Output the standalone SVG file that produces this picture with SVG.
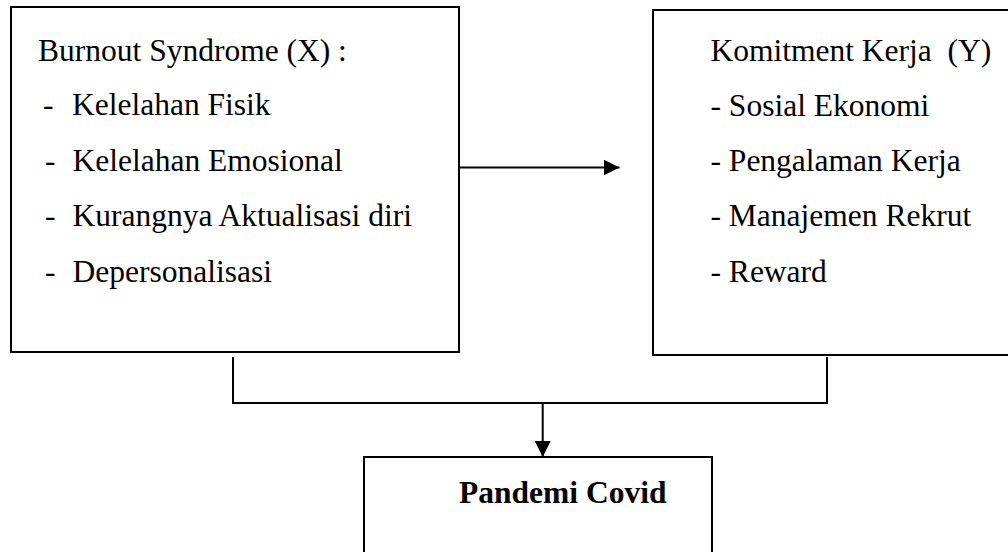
<svg xmlns="http://www.w3.org/2000/svg" width="1008" height="552" viewBox="0 0 1008 552">
<style>
.box{fill:#fff;stroke:#000;stroke-width:2}
.t{font-family:"Liberation Serif","Times New Roman",serif;font-size:31.5px;fill:#000;white-space:pre}
.b{font-weight:bold}
.ln{fill:none;stroke:#000;stroke-width:2}
</style>
<defs>
<marker id="ah" viewBox="0 0 16 16" refX="16" refY="8" markerWidth="16" markerHeight="16" markerUnits="userSpaceOnUse" orient="auto">
<path d="M0,0 L16,8 L0,16 Z" fill="#000"/>
</marker>
</defs>
<rect width="1008" height="552" fill="#fff"/>
<g id="connectors">
<line class="ln" x1="460" y1="167.5" x2="619.5" y2="167.5" marker-end="url(#ah)"/>
<polyline class="ln" points="233,357 233,403 827,403 827,357"/>
<line class="ln" x1="542.7" y1="403" x2="542.7" y2="457" marker-end="url(#ah)"/>
</g>
<g id="node-x">
<rect class="box" x="11" y="7" width="448" height="345"/>
<text class="t" x="38" y="61">Burnout Syndrome (X) :</text>
<text class="t" x="43" y="115">-</text><text class="t" x="72" y="115">Kelelahan Fisik</text>
<text class="t" x="45" y="171">-</text><text class="t" x="72.5" y="171">Kelelahan Emosional</text>
<text class="t" x="45" y="226">-</text><text class="t" x="72.5" y="226">Kurangnya Aktualisasi diri</text>
<text class="t" x="45" y="282">-</text><text class="t" x="72.5" y="282">Depersonalisasi</text>
</g>
<g id="node-y">
<rect class="box" x="653" y="10" width="370" height="345"/>
<text class="t" x="710.5" y="61">Komitment Kerja  (Y)</text>
<text class="t" x="710.5" y="116">- Sosial Ekonomi</text>
<text class="t" x="710.5" y="171">- Pengalaman Kerja</text>
<text class="t" x="710.5" y="226">- Manajemen Rekrut</text>
<text class="t" x="710.5" y="282">- Reward</text>
</g>
<g id="node-covid">
<rect class="box" x="364" y="457" width="348" height="120"/>
<text class="t b" x="459" y="503">Pandemi Covid</text>
</g>
</svg>
